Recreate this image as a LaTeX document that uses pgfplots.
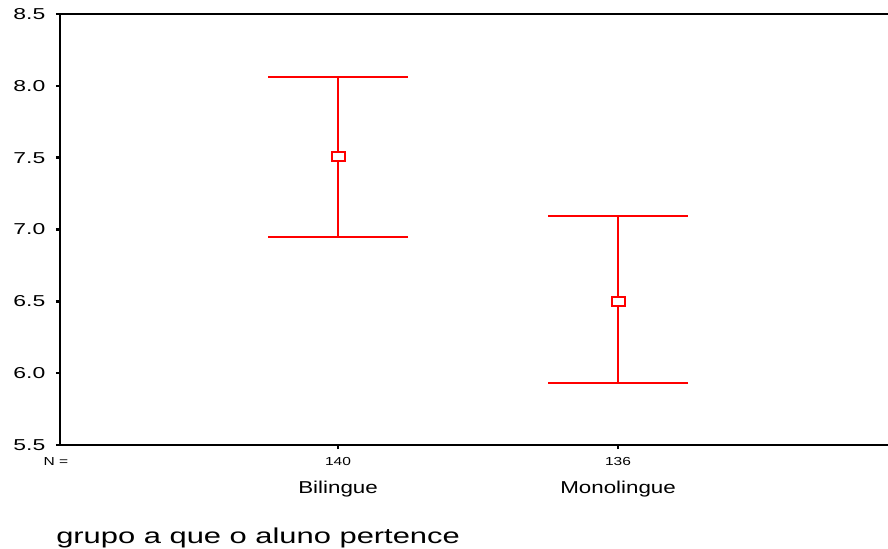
\documentclass[border=0pt]{standalone}
\usepackage{fontspec}
\setmainfont{Liberation Sans}
\usepackage{pgfplots}
\pgfplotsset{compat=1.18}
\begin{document}
\begin{tikzpicture}
\useasboundingbox (-30pt,-51.5pt) rectangle (414pt,222.5pt);
\begin{axis}[
  scale only axis, width=414pt, height=215.5pt,
  at={(0,0)}, anchor=south west,
  xmin=0.007, xmax=2.964, ymin=5.5, ymax=8.5,
  axis x line*=bottom, axis y line*=left,
  axis line style={line width=1pt, black},
  xtick={1,2}, xticklabels={,,},
  ytick={5.5,6.0,6.5,7.0,7.5,8.0,8.5},
  yticklabels={5.5,6.0,6.5,7.0,7.5,8.0,8.5},
  tick align=outside, major tick length=2pt,
  tick style={line width=1.3pt, black},
  yticklabel style={font=\fontsize{7.9}{9}\selectfont, xscale=1.45, inner sep=0pt, anchor=east, xshift=-3.5pt},
  clip=false,
]
\draw[line width=1pt, black] (rel axis cs:0,1) -- (rel axis cs:1,1);
\addplot[only marks, mark=square*, mark size=2.25pt,
  mark options={xscale=1.45, fill=white, draw=red, line width=1pt},
  error bars/.cd, y dir=both, y explicit,
  error bar style={red, line width=1pt},
  error mark options={red, line width=1pt, mark size=35pt, rotate=90}]
  coordinates {
    (1,7.505) += (0,0.555) -= (0,0.557)
    (2,6.500) += (0,0.594) -= (0,0.568)
  };
\node[anchor=base, font=\fontsize{5.8}{7}\selectfont, xscale=1.34] at (axis cs:1,5.5) [yshift=-10.35pt] {140};
\node[anchor=base, font=\fontsize{5.8}{7}\selectfont, xscale=1.34] at (axis cs:2,5.5) [yshift=-10.35pt] {136};
\node[anchor=base, font=\fontsize{5.8}{7}\selectfont, xscale=1.34] at (axis cs:0.007,5.5) [yshift=-10pt, xshift=-1.5pt] {N =};
\node[anchor=base, font=\fontsize{8.6}{10}\selectfont, xscale=1.3] at (axis cs:1,5.5) [yshift=-24pt] {Bilingue};
\node[anchor=base, font=\fontsize{8.6}{10}\selectfont, xscale=1.3] at (axis cs:2,5.5) [yshift=-24pt] {Monolingue};
\node[anchor=base west, inner sep=0pt, font=\fontsize{10.8}{12}\selectfont, xscale=1.43] at (axis cs:0.007,5.5) [yshift=-49.3pt, xshift=-1.5pt] {grupo a que o aluno pertence};
\end{axis}
\end{tikzpicture}
\end{document}
